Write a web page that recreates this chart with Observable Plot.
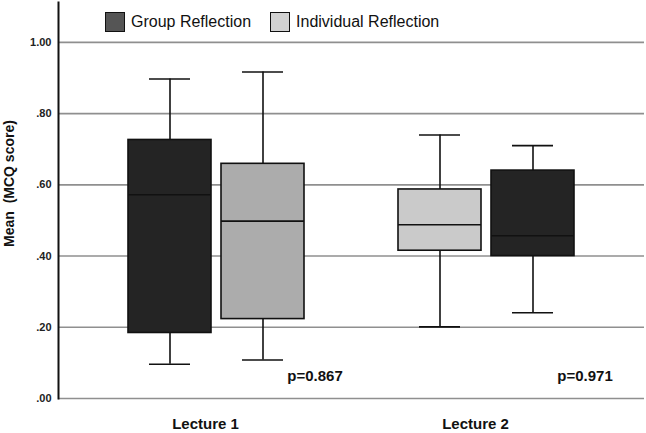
<!DOCTYPE html>
<html>
<head>
<meta charset="utf-8">
<script src="https://cdn.jsdelivr.net/npm/d3@7"></script>
<script src="https://cdn.jsdelivr.net/npm/@observablehq/plot@0.6"></script>
<style>
  html, body { margin: 0; padding: 0; background: #fff; }
  #chart { position: relative; width: 646px; height: 433px; font-family: "Liberation Sans", Arial, sans-serif; }
  .legend { position: absolute; left: 105px; top: 12px; display: flex; align-items: center; font-size: 16px; color: #111; }
  .legend .item { display: flex; align-items: center; margin-right: 19px; }
  .legend .swatch { width: 18px; height: 18px; border: 1.5px solid #111; margin-right: 6px; box-sizing: content-box; }
</style>
</head>
<body>
<div id="chart"></div>
<script>
// Box summaries of MCQ scores, one box per lecture and reflection type
const lectures = ["Lecture 1", "Lecture 1", "Lecture 2", "Lecture 2"];
const groups = ["Group Reflection", "Individual Reflection", "Individual Reflection", "Group Reflection"];
const slots = ["left", "right", "left", "right"];
const mins = [0.096, 0.108, 0.201, 0.241];
const q1s = [0.184, 0.223, 0.415, 0.400];
const medians = [0.572, 0.498, 0.488, 0.457];
const q3s = [0.726, 0.659, 0.587, 0.640];
const maxs = [0.897, 0.917, 0.740, 0.710];

// Significance of the group difference within each lecture
const pLectures = ["Lecture 1", "Lecture 2"];
const pValues = [0.867, 0.971];

const lectureOrder = ["Lecture 1", "Lecture 2"];
const yTicks = [0, 0.2, 0.4, 0.6, 0.8, 1.0];
const legendGroups = ["Group Reflection", "Individual Reflection"];

// Fill shades
const boxShade = {
  "Lecture 1|Group Reflection": "#242424",
  "Lecture 1|Individual Reflection": "#acacac",
  "Lecture 2|Individual Reflection": "#cacaca",
  "Lecture 2|Group Reflection": "#242424"
};
const legendShade = {"Group Reflection": "#555555", "Individual Reflection": "#d2d2d2"};

const boxes = lectures.map((lecture, i) => ({
  lecture, group: groups[i], slot: slots[i],
  min: mins[i], q1: q1s[i], median: medians[i], q3: q3s[i], max: maxs[i]
}));
const pRows = pLectures.map((lecture, i) => ({lecture, p: pValues[i], slot: "right"}));

const tickFormat = d => d3.format(".2f")(d).replace(/^0/, "");
const ink = "#111";
const gridStyle = {stroke: "#8f8f8f", strokeWidth: 1.6};
// the lecture panels sit inset from the plot edges; this reaches back out to them
const reach = -46;

const chart = Plot.plot({
  width: 646,
  height: 433,
  marginTop: 2,
  marginBottom: 35,
  marginLeft: 58,
  marginRight: 2,
  style: {fontFamily: "'Liberation Sans', Arial, sans-serif", background: "#fff"},
  fx: {domain: lectureOrder, paddingInner: 0.17, paddingOuter: 0.17, axis: null, label: null},
  x: {domain: ["left", "right"], paddingInner: 0.109, paddingOuter: 0.25, axis: null},
  y: {domain: [0, 1.112], axis: null},
  marks: [
    // horizontal grid across the full plot width (left panel reaches to the next one)
    Plot.ruleY(yTicks, {y: d => d, ...gridStyle, insetLeft: reach, insetRight: reach, facetAnchor: "left"}),
    Plot.ruleY(yTicks, {y: d => d, ...gridStyle, insetRight: reach, facetAnchor: "right"}),
    // vertical axis line and tick labels
    Plot.frame({anchor: "left", stroke: ink, strokeWidth: 2, insetLeft: reach, facetAnchor: "left"}),
    Plot.text(yTicks, {
      y: d => d, text: tickFormat, frameAnchor: "left", textAnchor: "end", dx: reach - 7,
      fontSize: 11, fontWeight: "bold", fill: "#222", facetAnchor: "left"
    }),
    Plot.text(["Mean\u00a0\u00a0(MCQ score)"], {
      frameAnchor: "left", textAnchor: "middle", lineAnchor: "middle", rotate: -90,
      dx: reach - 48.5, dy: -17,
      fontSize: 14, fontWeight: "bold", fill: "#111", facetAnchor: "left"
    }),
    // lecture labels under each panel
    Plot.text(lectureOrder, {
      fx: d => d, text: d => d, frameAnchor: "bottom", lineAnchor: "middle", dy: 26, dx: -11,
      fontSize: 15, fontWeight: "bold", fill: "#111"
    }),
    // whiskers
    Plot.ruleX(boxes, {fx: "lecture", x: "slot", y1: "q3", y2: "max", stroke: ink, strokeWidth: 1.6}),
    Plot.ruleX(boxes, {fx: "lecture", x: "slot", y1: "min", y2: "q1", stroke: ink, strokeWidth: 1.6}),
    Plot.tickY(boxes, {fx: "lecture", x: "slot", y: "max", stroke: ink, strokeWidth: 1.6, insetLeft: 21, insetRight: 21}),
    Plot.tickY(boxes, {fx: "lecture", x: "slot", y: "min", stroke: ink, strokeWidth: 1.6, insetLeft: 21, insetRight: 21}),
    // interquartile boxes and medians
    Plot.barY(boxes, {
      fx: "lecture", x: "slot", y1: "q1", y2: "q3",
      fill: d => boxShade[d.lecture + "|" + d.group], stroke: ink, strokeWidth: 1.6
    }),
    Plot.tickY(boxes, {fx: "lecture", x: "slot", y: "median", stroke: ink, strokeWidth: 1.6}),
    // p-values
    Plot.text(pRows, {
      fx: "lecture", x: "slot", text: d => "p=" + d.p.toFixed(3),
      frameAnchor: "bottom", lineAnchor: "middle", dy: -22, dx: 52,
      fontSize: 15, fontWeight: "bold", fill: "#111"
    })
  ]
});

const root = document.getElementById("chart");
root.appendChild(chart);

const legend = document.createElement("div");
legend.className = "legend";
for (const g of legendGroups) {
  const item = document.createElement("div");
  item.className = "item";
  const sw = document.createElement("span");
  sw.className = "swatch";
  sw.style.background = legendShade[g];
  const label = document.createElement("span");
  label.textContent = g;
  item.append(sw, label);
  legend.appendChild(item);
}
root.appendChild(legend);
</script>
</body>
</html>
